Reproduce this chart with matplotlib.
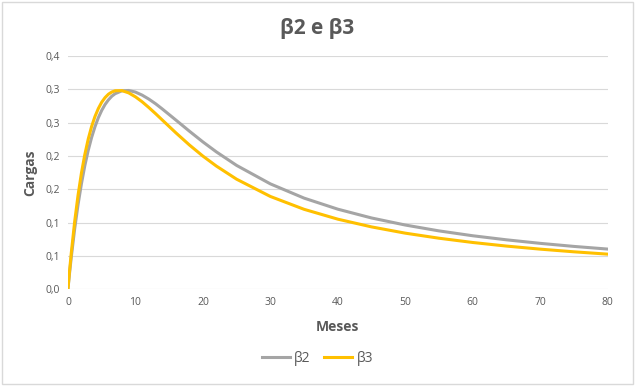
import matplotlib.pyplot as plt

# months and loadings
meses = [0, 0.25, 0.5, 1, 1.5, 2, 2.5, 3, 3.5, 4, 4.5, 5, 5.5, 6, 6.5, 7, 8, 9,
         10, 11, 12, 13, 14, 16, 18, 20, 22, 25,
         30, 35, 40, 45, 50, 55, 60, 65, 70, 75, 80]
beta2 = [0.0, 0.0251, 0.0484, 0.0907, 0.1270, 0.1583, 0.1853, 0.2081, 0.2274,
         0.2436, 0.2572, 0.2682, 0.2772, 0.2841, 0.2896, 0.2934, 0.2977, 0.2982,
         0.2958, 0.2912, 0.2852, 0.2782, 0.2703, 0.2538, 0.2371, 0.2210, 0.2060,
         0.1857, 0.1580, 0.1366, 0.1200, 0.1068, 0.0962, 0.0874, 0.0801, 0.0740,
         0.0687, 0.0641, 0.0601]
beta3 = [0.0, 0.0286, 0.0548, 0.1017, 0.1411, 0.1743, 0.2020, 0.2250, 0.2439,
         0.2590, 0.2710, 0.2805, 0.2875, 0.2926, 0.2959, 0.2978, 0.2980, 0.2946,
         0.2887, 0.2812, 0.2725, 0.2633, 0.2537, 0.2346, 0.2164, 0.1997, 0.1847,
         0.1650, 0.1391, 0.1198, 0.1050, 0.0934, 0.0840, 0.0764, 0.0700, 0.0646,
         0.0600, 0.0560, 0.0525]

y_ticks = [0, 0.05, 0.10, 0.15, 0.20, 0.25, 0.30, 0.35]
y_labels = ['0,0', '0,1', '0,1', '0,2', '0,2', '0,3', '0,3', '0,4']
x_ticks = [0, 10, 20, 30, 40, 50, 60, 70, 80]

txt = '#595959'
plt.rcParams['font.family'] = ['Open Sans', 'DejaVu Sans']

fig = plt.figure(figsize=(6.35, 3.86), dpi=100)
ax = fig.add_axes([0.107, 0.251, 0.85, 0.604])

ax.plot(meses, beta2, color='#A5A5A5', lw=2.2, label='β2', solid_joinstyle='round')
ax.plot(meses, beta3, color='#FFC000', lw=2.2, label='β3', solid_joinstyle='round')

ax.set_xlim(0, 80)
ax.set_ylim(0, 0.35)
ax.set_yticks(y_ticks)
ax.set_yticklabels(y_labels)
ax.set_xticks(x_ticks)
ax.tick_params(length=0, labelsize=7.5, colors=txt, pad=6)
ax.grid(axis='y', color='#D9D9D9', lw=0.8)
ax.set_axisbelow(True)
for s in ax.spines.values():
    s.set_visible(False)

ax.set_xlabel('Meses', fontsize=10, fontweight='bold', color=txt, labelpad=8)
ax.set_ylabel('Cargas', fontsize=10, fontweight='bold', color=txt, labelpad=6)
fig.text(0.5, 0.925, 'β2 e β3', ha='center', va='center', fontsize=15,
         fontweight='bold', color=txt)

fig.legend(loc='center', bbox_to_anchor=(0.5, 0.072), ncol=2, frameon=False,
           fontsize=10, handlelength=2.0, columnspacing=1.0, handletextpad=0.3,
           labelcolor=txt)

# light chart border like the excel frame
fig.patches.append(plt.Rectangle((0.003, 0.005), 0.994, 0.99, transform=fig.transFigure,
                                 fill=False, edgecolor='#D9D9D9', lw=1))

fig.savefig('out.png', dpi=100)
